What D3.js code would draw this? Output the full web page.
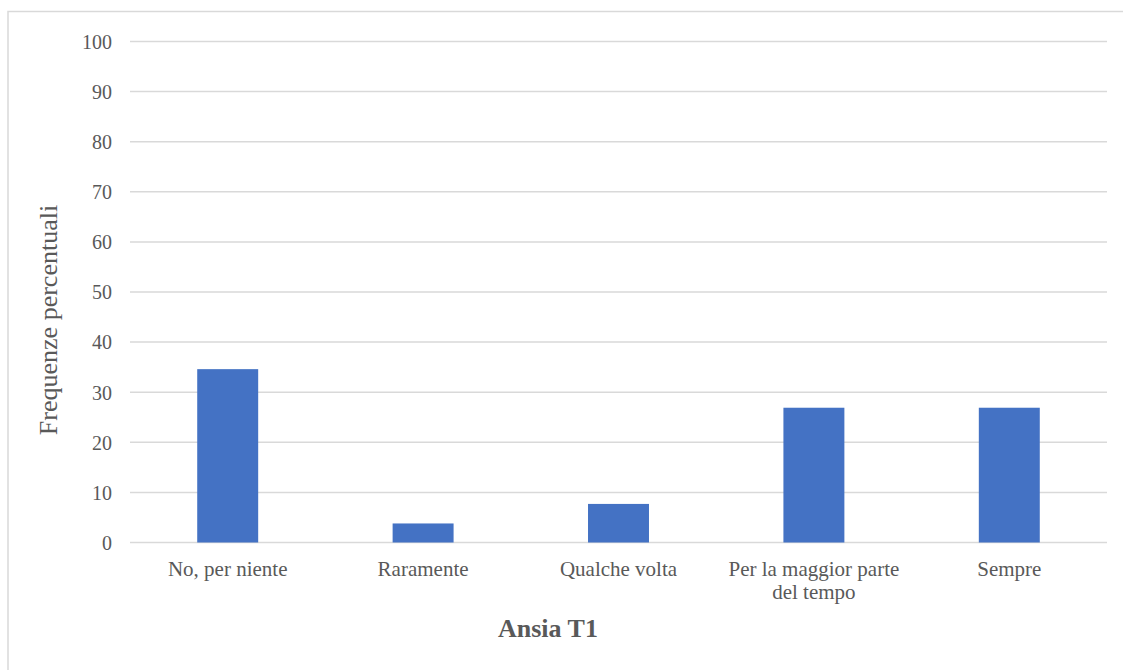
<!DOCTYPE html>
<html>
<head>
<meta charset="utf-8">
<script src="https://cdn.jsdelivr.net/npm/d3@7"></script>
<style>
  html, body { margin: 0; padding: 0; background: #ffffff; overflow: hidden; }
  svg { display: block; }
</style>
</head>
<body>
<svg id="chart" width="1123" height="670"></svg>
<script>
// Response categories and percentage frequencies
const categories = [
  ["No, per niente"],
  ["Raramente"],
  ["Qualche volta"],
  ["Per la maggior parte", "del tempo"],
  ["Sempre"]
];
const values = [34.6, 3.8, 7.7, 26.9, 26.9];
const yTicks = [0, 10, 20, 30, 40, 50, 60, 70, 80, 90, 100];
const xTitle = "Ansia T1";
const yTitle = "Frequenze percentuali";

const svg = d3.select("#chart");
const textColor = "#595959";
const gridColor = "#d9d9d9";
const font = "'Liberation Serif', 'Times New Roman', serif";

// Outer chart frame (extends past the visible window on right/bottom)
svg.append("rect")
  .attr("x", 8).attr("y", 11.5)
  .attr("width", 1300).attr("height", 800)
  .attr("fill", "#ffffff")
  .attr("stroke", gridColor)
  .attr("stroke-width", 1.5);

const plot = { left: 130, right: 1107, top: 41.5, bottom: 542.5 };

const x = d3.scaleBand()
  .domain(d3.range(categories.length))
  .range([plot.left, plot.right])
  .paddingInner(0.688)
  .paddingOuter(0.344);

const y = d3.scaleLinear()
  .domain([0, 100])
  .range([plot.bottom, plot.top]);

// Horizontal gridlines
svg.append("g")
  .selectAll("line")
  .data(yTicks)
  .join("line")
  .attr("x1", plot.left).attr("x2", plot.right)
  .attr("y1", d => y(d)).attr("y2", d => y(d))
  .attr("stroke", gridColor)
  .attr("stroke-width", 1.5);

// Y axis tick labels
const yAxis = d3.axisLeft(y).tickValues(yTicks).tickSize(0).tickPadding(0);
const gy = svg.append("g")
  .attr("transform", `translate(112,0)`)
  .call(yAxis);
gy.select(".domain").remove();
gy.attr("font-family", null);
gy.selectAll("text")
  .attr("fill", textColor)
  .style("font-family", font)
  .style("font-size", "20px")
  .attr("dy", "0.34em");

// Bars
svg.append("g")
  .selectAll("rect")
  .data(values)
  .join("rect")
  .attr("x", (d, i) => x(i))
  .attr("width", x.bandwidth())
  .attr("y", d => y(d))
  .attr("height", d => y(0) - y(d))
  .attr("fill", "#4472c4");

// Category labels (may wrap to two lines)
const catG = svg.append("g");
categories.forEach((lines, i) => {
  const t = catG.append("text")
    .attr("x", x(i) + x.bandwidth() / 2)
    .attr("y", 576)
    .attr("text-anchor", "middle")
    .attr("fill", textColor)
    .style("font-family", font)
    .style("font-size", "21px");
  lines.forEach((line, j) => {
    t.append("tspan")
      .attr("x", x(i) + x.bandwidth() / 2)
      .attr("dy", j === 0 ? 0 : 22.5)
      .text(line);
  });
});

// Axis titles
svg.append("text")
  .attr("x", 548)
  .attr("y", 637)
  .attr("text-anchor", "middle")
  .attr("fill", textColor)
  .style("font-family", font)
  .style("font-size", "26px")
  .style("font-weight", "bold")
  .text(xTitle);

svg.append("text")
  .attr("transform", "translate(57,320) rotate(-90)")
  .attr("text-anchor", "middle")
  .attr("fill", textColor)
  .style("font-family", font)
  .style("font-size", "26px")
  .text(yTitle);
</script>
</body>
</html>
